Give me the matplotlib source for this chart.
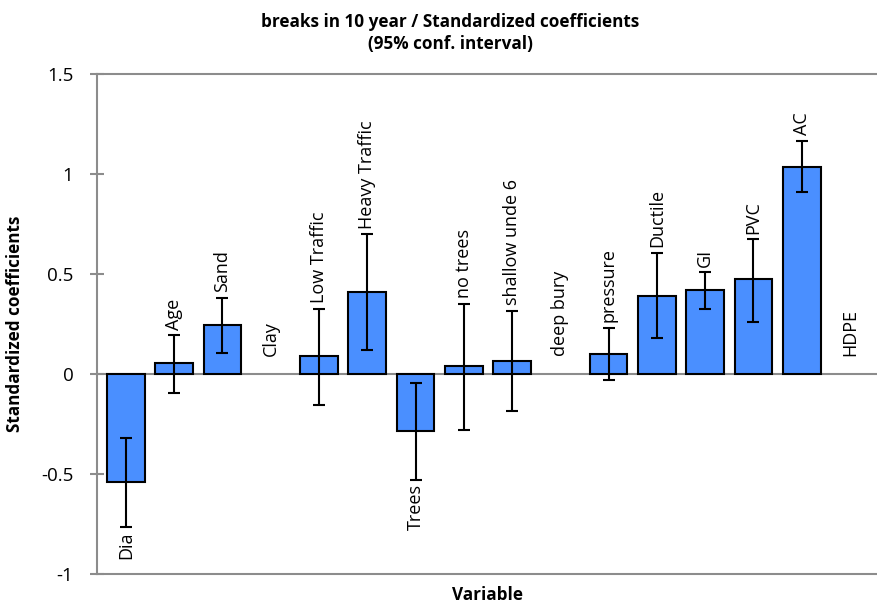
import matplotlib
matplotlib.use("Agg")
import matplotlib.pyplot as plt
import numpy as np

plt.rcParams['font.family'] = ['Open Sans', 'DejaVu Sans']

# data
variables = ['Dia', 'Age', 'Sand', 'Clay', 'Low Traffic', 'Heavy Traffic', 'Trees',
             'no trees', 'shallow unde 6', 'deep bury', 'pressure', 'Ductile', 'GI',
             'PVC', 'AC', 'HDPE']
coef = [-0.539, 0.053, 0.244, 0.0, 0.088, 0.410, -0.287, 0.040, 0.065, 0.0,
        0.102, 0.392, 0.418, 0.473, 1.037, 0.0]
ci_low = [-0.766, -0.093, 0.103, 0.0, -0.155, 0.118, -0.530, -0.280, -0.183, 0.0,
          -0.028, 0.178, 0.325, 0.262, 0.912, 0.0]
ci_high = [-0.318, 0.194, 0.382, 0.0, 0.325, 0.698, -0.043, 0.352, 0.317, 0.0,
           0.232, 0.605, 0.508, 0.673, 1.165, 0.0]

BAR_COLOR = '#4a8fff'
AXIS_GRAY = '#8c8c8c'
LABEL_SIZE = 13

fig = plt.figure(figsize=(8.77, 6.05), dpi=100)
ax = fig.add_axes([97 / 877, 1 - 574 / 605, 1 - 97 / 877, (574 - 74) / 605])

x = np.arange(len(variables))
coef_arr = np.array(coef)
yerr = np.array([coef_arr - np.array(ci_low), np.array(ci_high) - coef_arr])
has_bar = coef_arr != 0

ax.axhline(0, color=AXIS_GRAY, lw=1.5, zorder=1)
ax.bar(x[has_bar], coef_arr[has_bar], width=0.78, color=BAR_COLOR,
       edgecolor='black', linewidth=1.5, zorder=2)
ax.errorbar(x[has_bar], coef_arr[has_bar], yerr=yerr[:, has_bar], fmt='none',
            ecolor='black', elinewidth=1.5, capsize=4.5, capthick=1.5, zorder=3)

# labels above / below the confidence interval
for xi, name, c, lo, hi in zip(x, variables, coef, ci_low, ci_high):
    if c > 0:
        ax.annotate(name, (xi, hi), xytext=(0, 4), textcoords='offset points',
                    rotation=90, ha='center', va='bottom', fontsize=LABEL_SIZE)
    elif c < 0:
        ax.annotate(name, (xi, lo), xytext=(0, -3), textcoords='offset points',
                    rotation=90, ha='center', va='top', fontsize=LABEL_SIZE)
    else:
        ax.annotate(name, (xi, 0), xytext=(0, 13), textcoords='offset points',
                    rotation=90, ha='center', va='bottom', fontsize=LABEL_SIZE)

ax.set_xlim(-0.6, 15.56)
ax.set_ylim(-1, 1.5)
ax.set_yticks([-1, -0.5, 0, 0.5, 1, 1.5])
ax.set_yticklabels(['-1', '-0.5', '0', '0.5', '1', '1.5'])
ax.set_xticks([])
ax.tick_params(axis='y', direction='inout', length=10, width=1.5, color=AXIS_GRAY,
               labelsize=13.5, pad=12)

for side in ['left', 'bottom', 'top']:
    ax.spines[side].set_color(AXIS_GRAY)
    ax.spines[side].set_linewidth(1.5)
ax.spines['right'].set_visible(False)

ax.set_ylabel('Standardized coefficients', fontsize=12.3, fontweight='bold')
ax.yaxis.set_label_coords(-0.093, 0.5)
ax.set_xlabel('Variable', fontsize=12.3, fontweight='bold', labelpad=9)

fig.text(450 / 877, 1 - 33 / 605, 'breaks in 10 year / Standardized coefficients\n(95% conf. interval)',
         ha='center', va='center', fontsize=12.3, fontweight='bold', linespacing=1.35)

fig.savefig('out.png', dpi=100)
